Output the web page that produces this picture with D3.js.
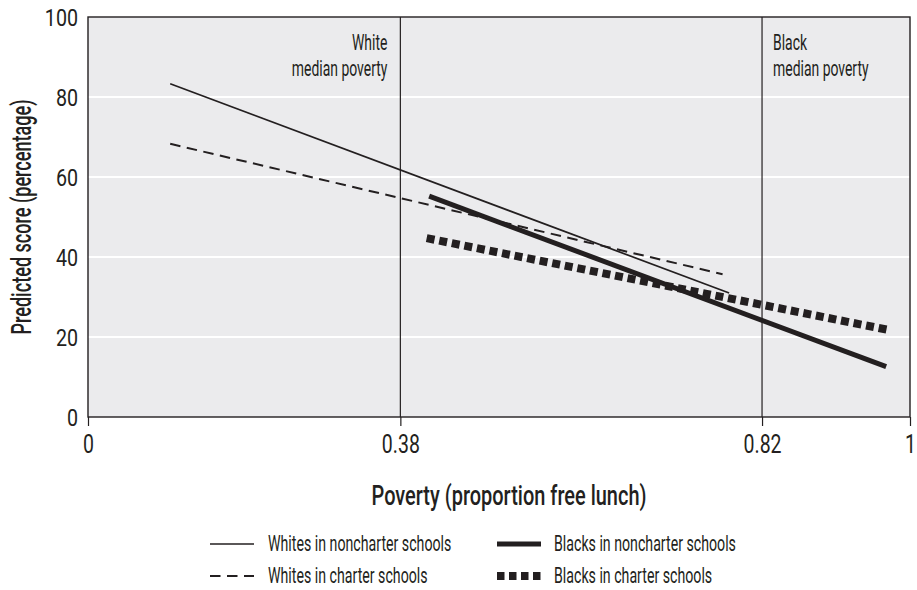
<!DOCTYPE html>
<html><head><meta charset="utf-8">
<script src="https://cdn.jsdelivr.net/npm/d3@7"></script>
<style>
body{margin:0;background:#fff;}
text{font-family:Roboto,"Noto Sans",sans-serif;fill:#231f20;}
</style></head><body>
<svg id="c" width="917" height="590"></svg>
<script>
const yTicks = [0, 20, 40, 60, 80, 100];
const xTicks = [0, 0.38, 0.82, 1];
const xTickLabels = ["0", "0.38", "0.82", "1"];
const medians = [
  {x: 0.38, lines: ["White", "median poverty"], anchor: "end"},
  {x: 0.82, lines: ["Black", "median poverty"], anchor: "start"}
];
const seriesNames = ["Whites in noncharter schools", "Whites in charter schools", "Blacks in noncharter schools", "Blacks in charter schools"];
const whitesNoncharter = [[0.10, 83.3], [0.78, 31.0]];
const whitesCharter = [[0.10, 68.3], [0.772, 35.7]];
const blacksNoncharter = [[0.415, 55.2], [0.971, 12.6]];
const blacksCharter = [[0.412, 44.7], [0.973, 21.8]];

const styles = [
  {w: 1.7, dash: null},
  {w: 2, dash: "10.5,6.5"},
  {w: 5, dash: null},
  {w: 8, dash: "8,4.8"}
];
const seriesData = [whitesNoncharter, whitesCharter, blacksNoncharter, blacksCharter];

function squeeze(sel, sx) {
  sel.each(function () {
    const t = d3.select(this);
    const x = +t.attr("x") || 0;
    t.attr("x", x / sx);
    t.selectAll("tspan").each(function () {
      const s = d3.select(this);
      if (s.attr("x") != null) s.attr("x", +s.attr("x") / sx);
    });
    const tr = t.attr("transform") || "";
    t.attr("transform", (tr + ` scale(${sx},1)`).trim());
  });
}

const svg = d3.select("#c");
const L = 88, R = 910, T = 17, B = 417;
const x = d3.scaleLinear().domain([0, 1]).range([L, R]);
const y = d3.scaleLinear().domain([0, 100]).range([B, T]);
const ink = "#231f20";

svg.append("rect").attr("x", L).attr("y", T).attr("width", R - L).attr("height", B - T).attr("fill", "#ebebed");

svg.append("g").selectAll("line").data(yTicks.filter(d => d > 0 && d < 100)).join("line")
  .attr("x1", L).attr("x2", R).attr("y1", d => y(d)).attr("y2", d => y(d))
  .attr("stroke", "#fff").attr("stroke-width", 2);

// median lines
svg.append("g").selectAll("line").data(medians).join("line")
  .attr("x1", d => x(d.x)).attr("x2", d => x(d.x)).attr("y1", T).attr("y2", B)
  .attr("stroke", ink).attr("stroke-width", 1.2);

const mg = svg.append("g");
medians.forEach(m => {
  const ax = x(m.x) + (m.anchor === "end" ? -13 : 11);
  const t = mg.append("text").attr("text-anchor", m.anchor).attr("font-size", 22.5).attr("font-weight", 400)
    .attr("x", ax);
  m.lines.forEach((ln, i) => t.append("tspan").attr("x", ax).attr("y", 50 + i * 26).text(ln));
});
squeeze(mg.selectAll("text"), 0.62);

// frame
svg.append("rect").attr("x", L).attr("y", T).attr("width", R - L).attr("height", B - T)
  .attr("fill", "none").attr("stroke", ink).attr("stroke-width", 1.4);

// axes
const xAxis = d3.axisBottom(x).tickValues(xTicks).tickFormat((d, i) => xTickLabels[i]).tickSize(9).tickSizeOuter(0);
const gx = svg.append("g").attr("transform", `translate(0,${B})`).call(xAxis);
gx.select(".domain").remove();
gx.selectAll("line").attr("stroke", ink).attr("stroke-width", 1.2);
gx.selectAll("text").attr("font-size", 25).attr("font-weight", 400).attr("y", 36).attr("dy", null).attr("fill", ink)
  .attr("font-family", "Roboto,sans-serif");
squeeze(gx.selectAll("text"), 0.78);

const yAxis = d3.axisLeft(y).tickValues(yTicks).tickSize(0);
const gy = svg.append("g").attr("transform", `translate(${L},0)`).call(yAxis);
gy.select(".domain").remove();
gy.selectAll("text").attr("font-size", 24).attr("font-weight", 400).attr("x", -10).attr("dy", "0.36em").attr("fill", ink)
  .attr("font-family", "Roboto,sans-serif");
squeeze(gy.selectAll("text"), 0.82);

// series
const line = d3.line().x(d => x(d[0])).y(d => y(d[1]));
svg.append("g").selectAll("path").data(seriesData).join("path")
  .attr("d", d => line(d)).attr("fill", "none").attr("stroke", ink)
  .attr("stroke-width", (d, i) => styles[i].w)
  .attr("stroke-dasharray", (d, i) => styles[i].dash);

// axis titles
const xt = svg.append("text").attr("x", 509).attr("y", 505).attr("text-anchor", "middle").attr("font-size", 27).attr("font-weight", 500)
  .text("Poverty (proportion free lunch)");
squeeze(xt, 0.74);
const yt = svg.append("text").attr("transform", `translate(31,217) rotate(-90)`).attr("text-anchor", "middle").attr("font-size", 27).attr("font-weight", 500)
  .text("Predicted score (percentage)");
squeeze(yt, 0.67);

// legend
const legPos = [[210, 544], [210, 576], [497, 544], [497, 576]];
const lg = svg.append("g");
seriesNames.forEach((n, i) => {
  const [lx, ly] = legPos[i];
  lg.append("line").attr("x1", lx).attr("x2", lx + 44).attr("y1", ly).attr("y2", ly)
    .attr("stroke", ink).attr("stroke-width", styles[i].w)
    .attr("stroke-dasharray", i === 3 ? "7.5,4.5" : styles[i].dash);
});
lg.selectAll("text").data(seriesNames).join("text")
  .attr("x", (d, i) => legPos[i][0] + (i < 2 ? 58 : 57)).attr("y", (d, i) => legPos[i][1] + 7.5)
  .attr("font-size", 22.5).attr("font-weight", 400).text(d => d);
squeeze(lg.selectAll("text"), 0.63);
</script></body></html>
